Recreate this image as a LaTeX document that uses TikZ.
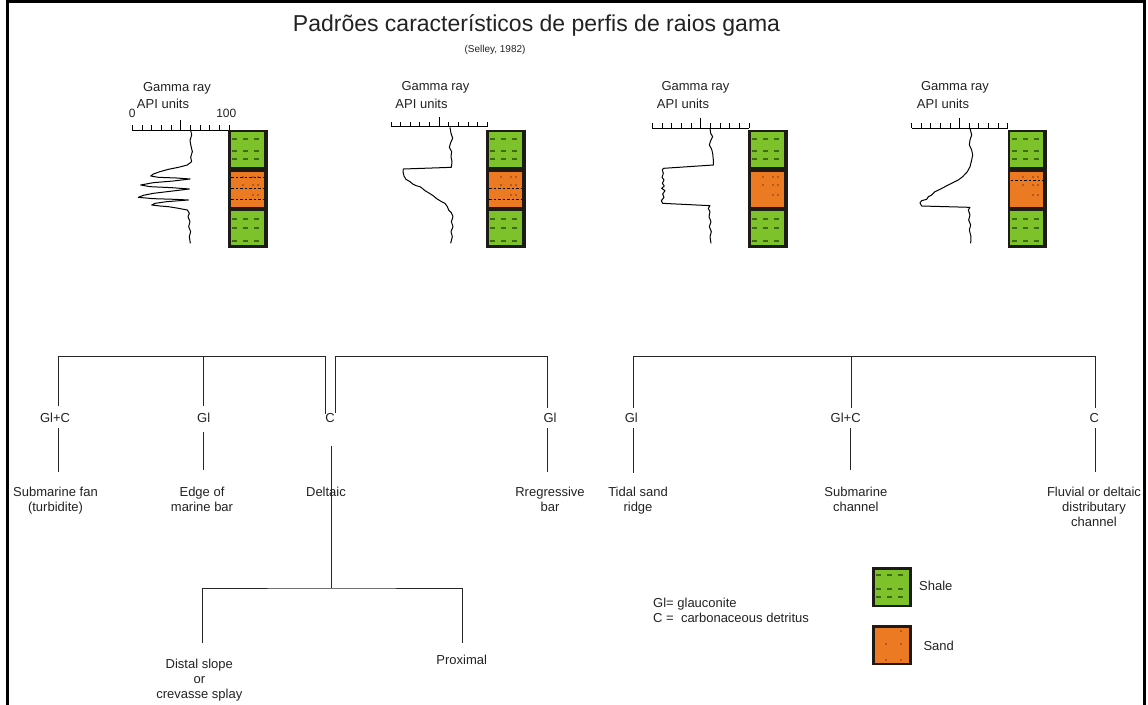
\documentclass[tikz,border=0pt]{standalone}
\usepackage{fontspec}
\setmainfont{Liberation Sans}
\definecolor{shalegreen}{HTML}{7DC22B}
\definecolor{sandorange}{HTML}{EC7A22}
\definecolor{shaledot}{HTML}{3C6B14}
\definecolor{sanddot}{HTML}{B55A1C}
\definecolor{colborder}{HTML}{1E1A16}
\definecolor{ink}{HTML}{222222}
\newcommand\drawlithcol[1]{%
\begin{scope}[shift={(#1,0)}]
 \fill[colborder] (0,129.5) rectangle (39.5,247.5);
 \fill[shalegreen] (2.5,132) rectangle (35.5,167);
 \fill[sandorange] (2.5,171.5) rectangle (35.5,207);
 \fill[shalegreen] (2.5,211) rectangle (35.5,244.5);
 \foreach \yy in {139,151,159,219,228,241}{\draw[shaledash] (4,\yy) -- (34,\yy);}
 \foreach \xx/\yy in {14/176,24/176,29/176,14/184,24/184,29/184,24/194,29/194}{\fill[sanddot] (\xx,\yy) rectangle ++(2,2);}
\end{scope}}
\newcommand\grscale[3]{%
 \draw[axis] (#1,#2) -- (#3,#2);
 \foreach \k in {0,...,10}{\draw[axis] ({#1+(#3-#1)*\k/10},#2) -- ++(0,-5);}
 \draw[axis] ({(#1+#3)/2},#2) -- ++(0,-10);}
\begin{document}
\begin{tikzpicture}[x=1pt,y=-1pt,
  every node/.style={inner sep=0pt, text=ink},
  lab/.style={font=\fontsize{13}{15}\selectfont, align=center, anchor=north},
  tag/.style={font=\fontsize{13}{15}\selectfont, anchor=base},
  hdr/.style={font=\fontsize{13}{15}\selectfont, anchor=base},
  tree/.style={draw=black!85, line width=1pt},
  logline/.style={draw=black, line width=1pt, line join=round},
  axis/.style={draw=black, line width=1pt},
  shaledash/.style={draw=shaledot, line width=2.6pt, dash pattern=on 5pt off 6pt},
  sanddash/.style={draw=black, line width=0.9pt, dash pattern=on 2.5pt off 2pt},
]
\useasboundingbox (0,0) rectangle (1148,704);
% frame
\draw[line width=2.7pt] (7.8,705) -- (7.8,1.35) -- (1144.5,1.35) -- (1144.5,705);
% titles
\node[font=\fontsize{23}{27}\selectfont, anchor=base] (title) at (536.5,31.5) {Padrões característicos de perfis de raios gama};
\node[font=\fontsize{10}{12}\selectfont, anchor=base] (src) at (495,52.5) {(Selley, 1982)};

% ---------- log 1
\node[hdr] (g1) at (177,91) {Gamma ray};
\node[hdr] (a1) at (163,108) {API units};
\node[font=\fontsize{12}{14}\selectfont, anchor=base] (z1) at (132.3,117) {0};
\node[font=\fontsize{12}{14}\selectfont, anchor=base] (h1) at (226.3,117) {100};
\grscale{132.3}{130}{229.3}
\drawlithcol{228}
\foreach \yy in {177.3,188.3,199}{\draw[sanddash] (231,\yy) -- (264,\yy);}
\begin{scope}[shift={(100,70)},x=0.33333pt,y=-0.33333pt]
\draw[logline] (272,180) -- (275,195) -- (270,212) -- (273,228) -- (277,245) -- (272,262) -- (275,275) -- (262,285) -- (235,292) -- (205,298) -- (180,305) -- (160,312) -- (152,318) -- (175,322) -- (230,324) -- (270,327)
 -- (220,333) -- (160,338) -- (122,345) -- (150,350) -- (215,353) -- (268,357)
 -- (210,364) -- (160,370) -- (130,376) -- (115,382) -- (160,386) -- (225,388) -- (265,390)
 -- (200,395) -- (165,400) -- (155,405) -- (180,408) -- (205,410) -- (230,414) -- (262,420) -- (268,430) -- (264,440) -- (270,455) -- (266,470) -- (272,485) -- (268,500) -- (271,520);
\end{scope}

% ---------- log 2
\node[hdr] (g2) at (435.5,90) {Gamma ray};
\node[hdr] (a2) at (421.5,108) {API units};
\grscale{391}{126.7}{487.3}
\drawlithcol{486}
\foreach \yy in {188.3,199}{\draw[sanddash] (489,\yy) -- (522,\yy);}
\begin{scope}[shift={(370,70)},x=0.33333pt,y=-0.33333pt]
\draw[logline] (240,172) -- (243,190) -- (248,205) -- (242,218) -- (238,232) -- (245,245) -- (243,260) -- (246,275) -- (244,292) -- (100,297) -- (99,305) -- (102,318) -- (108,328) -- (120,335) -- (128,342) -- (138,347) -- (150,350) -- (158,356) -- (165,362) -- (175,368) -- (188,376) -- (200,386) -- (213,394) -- (225,400) -- (232,410) -- (236,420) -- (244,428) -- (249,440) -- (244,455) -- (249,470) -- (243,485) -- (247,500) -- (242,520);
\end{scope}

% ---------- log 3
\node[hdr] (g3) at (695.5,90) {Gamma ray};
\node[hdr] (a3) at (683,108) {API units};
\grscale{652.3}{128}{749.3}
\drawlithcol{748}
\begin{scope}[shift={(620,70)},x=0.33333pt,y=-0.33333pt]
\draw[logline] (270,175) -- (272,190) -- (278,200) -- (272,212) -- (268,225) -- (275,238) -- (278,250) -- (280,270) -- (280,285) -- (130,295) -- (127,300) -- (130,310) -- (126,322) -- (132,330) -- (127,340) -- (133,348) -- (125,355) -- (135,362) -- (128,372) -- (132,382) -- (124,392) -- (128,400) -- (270,407) -- (265,415) -- (270,425) -- (267,440) -- (273,455) -- (268,470) -- (274,485) -- (270,500) -- (273,520);
\end{scope}

% ---------- log 4
\node[hdr] (g4) at (955,90) {Gamma ray};
\node[hdr] (a4) at (943,108) {API units};
\grscale{911.7}{128}{1007.7}
\drawlithcol{1007.7}
\draw[sanddash] (1010.5,180) -- (1043.5,180);
\begin{scope}[shift={(880,70)},x=0.33333pt,y=-0.33333pt]
\draw[logline] (270,175) -- (275,195) -- (270,210) -- (268,225) -- (275,240) -- (278,255) -- (275,270) -- (270,290) -- (262,305) -- (248,320) -- (235,330) -- (215,340) -- (195,350) -- (180,358) -- (165,365) -- (155,375) -- (145,380) -- (140,388) -- (125,392) -- (120,398) -- (125,408) -- (270,412) -- (265,420) -- (270,435) -- (266,450) -- (272,465) -- (268,480) -- (273,500) -- (272,520);
\end{scope}

% ---------- tree coordinates
\path (58.3,356) coordinate (A0) (58.3,406) coordinate (A1) (58.3,428) coordinate (A2) (58.3,472) coordinate (A3);
\path (203.3,356) coordinate (B0) (203.3,406) coordinate (B1) (203.3,432) coordinate (B2) (203.3,470) coordinate (B3);
\path (325,356) coordinate (C0) (325,414) coordinate (C1) (335,356) coordinate (C2) (335,413) coordinate (C3);
\path (331,446) coordinate (DT) (331,588) coordinate (DJ) (202,643) coordinate (DL) (462,643) coordinate (DR);
\path (547.7,356) coordinate (R0) (547.7,408) coordinate (R1) (547.7,428) coordinate (R2) (547.7,472) coordinate (R3);
\path (633.7,356) coordinate (T0) (633.7,408) coordinate (T1) (633.7,428) coordinate (T2) (633.7,472.7) coordinate (T3);
\path (851,356) coordinate (S0) (851,408) coordinate (S1) (850.5,428) coordinate (S2) (850.5,470) coordinate (S3);
\path (1095.7,356) coordinate (F0) (1095.7,408) coordinate (F1) (1095.7,428) coordinate (F2) (1095.7,472) coordinate (F3);

% upper branches
\draw[tree] (A1) -- (A0) -- (C0) -- (C1);
\draw[tree] (B0) -- (B1);
\draw[tree] (C3) -- (C2) -- (R0) -- (R1);
\draw[tree] (T1) -- (T0) -- (F0) -- (F1);
\draw[tree] (S0) -- (S1);
% lower branches
\draw[tree] (A2) -- (A3);
\draw[tree] (B2) -- (B3);
\draw[tree] (R2) -- (R3);
\draw[tree] (T2) -- (T3);
\draw[tree] (S2) -- (S3);
\draw[tree] (F2) -- (F3);
\draw[tree] (DT) -- (DJ);
\draw[tree] (DL) |- (DJ) -| (DR);

% tags
\node[tag] (tA) at (55,422.7) {Gl+C};
\node[tag] (tB) at (203.7,422.7) {Gl};
\node[tag] (tC) at (330,422.7) {C};
\node[tag] (tR) at (550,422.7) {Gl};
\node[tag] (tT) at (631.3,422.7) {Gl};
\node[tag] (tS) at (845.7,422.7) {Gl+C};
\node[tag] (tF) at (1094.2,422.7) {C};

% environment labels
\node[lab] (lA) at (55.5,487) {Submarine fan\\(turbidite)};
\node[lab] (lB) at (202,487) {Edge of\\marine bar};
\node[lab] (lC) at (326,487) {Deltaic};
\node[lab] (lR) at (550,487) {Rregressive\\bar};
\node[lab] (lT) at (638,487) {Tidal sand\\ridge};
\node[lab] (lS) at (855.8,487) {Submarine\\channel};
\node[lab] (lF) at (1094,487) {Fluvial or deltaic\\distributary\\channel};
\node[lab] (lD) at (199.3,659) {Distal slope\\or\\crevasse splay};
\node[lab] (lP) at (461.7,655) {Proximal};

% legend
\node[anchor=base west, font=\fontsize{13}{15}\selectfont] (kg) at (653,607.5) {Gl= glauconite};
\node[anchor=base west, font=\fontsize{13}{15}\selectfont] (kc) at (653,622.7) {C =\ \ carbonaceous detritus};
\fill[colborder] (872,567) rectangle (912,607);
\fill[shalegreen] (875,569.5) rectangle (909,604.5);
\foreach \yy in {575,589,597}{\draw[shaledash] (876,\yy) -- (908,\yy);}
\node[anchor=base west, font=\fontsize{13}{15}\selectfont] (ks) at (919,590) {Shale};
\fill[colborder] (872,625) rectangle (912,665);
\fill[sandorange] (875,627.5) rectangle (909,662.5);
\foreach \xx/\yy in {885/643,900/643,900/630,885/659,900/659}{\fill[sanddot] (\xx,\yy) rectangle ++(2,2);}
\node[anchor=base west, font=\fontsize{13}{15}\selectfont] (kd) at (923.3,650.7) {Sand};
\end{tikzpicture}
\end{document}
